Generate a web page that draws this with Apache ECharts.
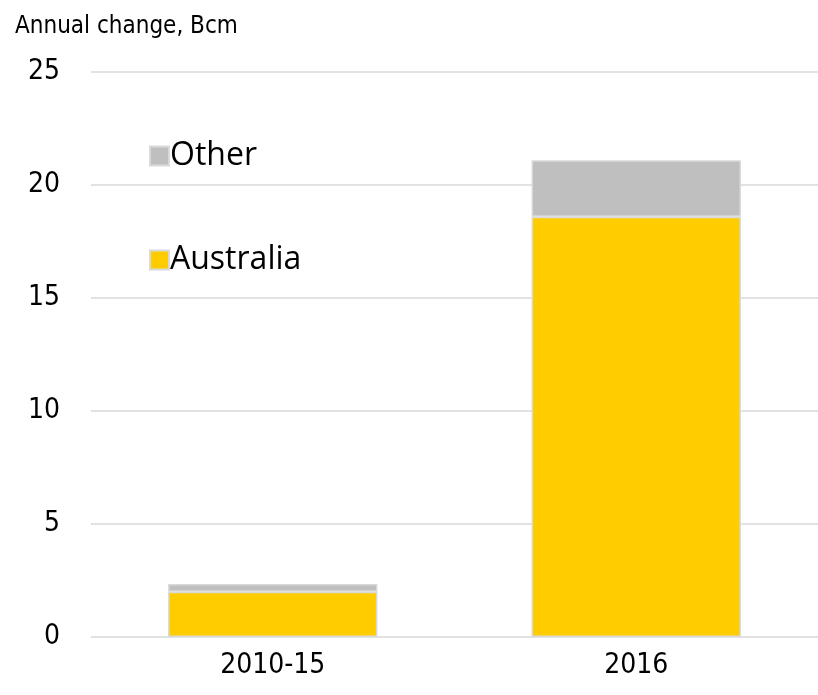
<!DOCTYPE html>
<html>
<head>
<meta charset="utf-8">
<script src="https://cdn.jsdelivr.net/npm/echarts@6/dist/echarts.min.js"></script>
<style>
  html, body { margin: 0; padding: 0; background: #fff; }
  #chart { width: 818px; height: 695px; }
</style>
</head>
<body>
<div id="chart"></div>
<script>
// data
const categories = ['2010-15', '2016'];
const australia = [2.0, 18.6];
const other = [0.35, 2.5];
const yTicks = [0, 5, 10, 15, 20, 25];

const axisFont = '"DejaVu Sans Condensed", sans-serif';

const chart = echarts.init(document.getElementById('chart'));
chart.setOption({
  animation: false,
  title: {
    text: 'Annual change, Bcm',
    left: 10,
    top: 10,
    textStyle: { fontFamily: axisFont, fontSize: 24, fontWeight: 'normal', color: '#000' }
  },
  legend: {
    orient: 'vertical',
    left: 144,
    top: 135,
    itemGap: 72,
    itemWidth: 19,
    itemHeight: 19,
    icon: 'rect',
    data: ['Other', 'Australia'],
    textStyle: { fontFamily: '"Open Sans", sans-serif', fontSize: 32, lineHeight: 32, color: '#000', padding: [0, 0, 0, -4] }
  },
  grid: { left: 91, right: 0, top: 72, bottom: 58 },
  xAxis: {
    type: 'category',
    data: categories,
    axisLine: { show: false },
    axisTick: { show: false },
    axisLabel: { fontFamily: axisFont, fontSize: 28, color: '#000', margin: 15 }
  },
  yAxis: {
    type: 'value',
    min: yTicks[0],
    max: yTicks[yTicks.length - 1],
    interval: 5,
    axisLabel: { fontFamily: axisFont, fontSize: 28, color: '#000', margin: 31 },
    splitLine: { lineStyle: { color: '#d9d9d9', width: 1.5 } }
  },
  series: [
    {
      name: 'Australia',
      type: 'bar',
      stack: 'total',
      data: australia,
      barWidth: '57.6%',
      itemStyle: { color: '#FFCC00', borderColor: '#d9d9d9', borderWidth: 1.5 }
    },
    {
      name: 'Other',
      type: 'bar',
      stack: 'total',
      data: other,
      itemStyle: { color: '#BFBFBF', borderColor: '#d9d9d9', borderWidth: 1.5 }
    }
  ]
});
</script>
</body>
</html>
